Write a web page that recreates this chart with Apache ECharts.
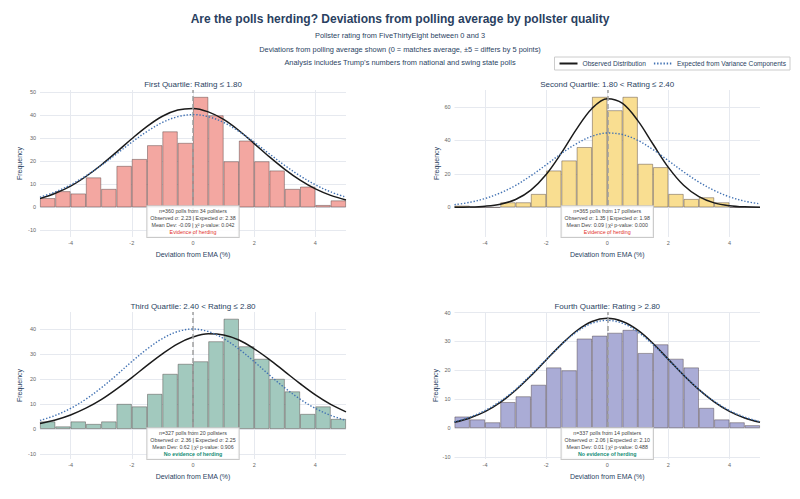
<!DOCTYPE html>
<html><head><meta charset="utf-8">
<script src="https://cdn.jsdelivr.net/npm/echarts/dist/echarts.min.js"></script>
<style>html,body{margin:0;padding:0;background:#fff}#c{width:800px;height:499px}</style>
</head><body><div id="c"></div>
<script>
// ---------- data ----------
const binStarts = [-5,-4.5,-4,-3.5,-3,-2.5,-2,-1.5,-1,-0.5,0,0.5,1,1.5,2,2.5,3,3.5,4,4.5];
const curveX = [-5,-4.5,-4,-3.5,-3,-2.5,-2,-1.5,-1,-0.5,0,0.5,1,1.5,2,2.5,3,3.5,4,4.5,5];
const xTicks = [-4,-2,0,2,4];

const subplotTitles = [
  'First Quartile: Rating \u2264 1.80',
  'Second Quartile: 1.80 < Rating \u2264 2.40',
  'Third Quartile: 2.40 < Rating \u2264 2.80',
  'Fourth Quartile: Rating > 2.80'
];

const q1Counts = [4,7,6,13,8,18,21,27,33,28,48,40,20,29,20,16,8,9,1,3];
const q1Observed = [3.8,6.1,9.2,13.4,18.4,24.0,29.8,35.2,39.6,42.3,43.0,41.5,38.2,33.4,27.7,21.9,16.5,11.8,8.0,5.2,3.2];
const q1Expected = [4.4,6.7,9.8,13.7,18.2,23.2,28.3,33.0,36.9,39.4,40.3,39.4,36.9,33.0,28.3,23.2,18.2,13.7,9.8,6.7,4.4];

const q2Counts = [1,0,0,3,3,8,22,28,36,66,58,66,26,24,8,5,6,3,0,0];
const q2Observed = [0.05,0.2,0.7,1.9,4.7,10.3,19.6,32.5,46.9,59.1,64.9,62.1,51.8,37.7,23.9,13.2,6.4,2.7,1.0,0.3,0.1];
const q2Expected = [1.6,3.0,5.3,8.6,13.1,18.9,25.4,32.2,38.1,42.5,44.4,43.5,40.0,34.5,27.9,21.2,15.1,10.1,6.3,3.7,2.1];

const q3Counts = [3,1,3,2,3,10,9,14,22,26,27,35,44,33,28,20,15,6,9,4];
const q3Observed = [2.2,3.6,5.6,8.3,11.7,15.9,20.5,25.4,30.0,34.0,36.7,38.0,37.5,35.5,32.0,27.7,22.9,18.1,13.6,9.8,6.8];
const q3Expected = [3.4,5.4,8.2,11.9,16.4,21.5,26.9,31.9,36.1,38.9,39.9,38.9,36.1,31.9,26.9,21.5,16.4,11.9,8.2,5.4,3.4];

const q4Counts = [4,3,2,9,11,15,21,20,31,32,33,34,26,29,24,21,7,3,2,1];
const q4Observed = [2.0,3.5,5.7,8.9,13.1,18.1,23.6,29.0,33.7,36.9,38.0,36.9,33.9,29.3,23.8,18.3,13.3,9.1,5.8,3.5,2.0];
const q4Expected = [2.2,3.8,6.1,9.3,13.4,18.4,23.7,28.9,33.3,36.3,37.3,36.3,33.3,28.9,23.7,18.4,13.4,9.3,6.1,3.8,2.2];

const yRanges = [[-12.9, 51], [-17.7, 70.1], [-12, 46.7], [-10.7, 40.2]];
const yTicks = [[-10,0,10,20,30,40,50],[0,20,40,60],[-10,0,10,20,30,40],[-10,0,10,20,30,40]];

const nPolls = [360, 365, 327, 337];
const nPollsters = [34, 17, 20, 14];
const observedSigma = ['2.23','1.35','2.36','2.06'];
const expectedSigma = ['2.38','1.98','2.25','2.10'];
const meanDev = ['-0.09','0.09','0.62','0.01'];
const pValues = ['0.042','0.000','0.906','0.488'];
const verdicts = ['Evidence of herding','Evidence of herding','No evidence of herding','No evidence of herding'];
const herding = [true, true, false, false];

// ---------- style ----------
const FONT = '"Liberation Sans", Arial, Helvetica, sans-serif';
const barColors = ['#F3A7A1','#F9DE91','#A2C9BE','#AAACD6'];
const gridColor = '#E6E9EF';
const grids = [
  {left:40, top:90, width:306, height:147},
  {left:454.5, top:90, width:305.5, height:147},
  {left:40, top:312, width:306, height:147},
  {left:454.5, top:312, width:305.5, height:147}
];
const yNameGaps = [17, 14, 17, 16];

const counts = [q1Counts, q2Counts, q3Counts, q4Counts];
const observed = [q1Observed, q2Observed, q3Observed, q4Observed];
const expected = [q1Expected, q2Expected, q3Expected, q4Expected];

const chart = echarts.init(document.getElementById('c'), null, {renderer:'svg'});

const xAxes = [], yAxes = [], series = [];
grids.forEach((g, i) => {
  xAxes.push({
    type:'value', gridIndex:i, min:-5, max:5,
    axisLabel:{customValues:xTicks, fontSize:5.5, color:'#666', margin:3, fontFamily:FONT},
    axisTick:{show:false, customValues:xTicks},
    splitLine:{show:true, lineStyle:{color:gridColor, width:1}},
    axisLine:{show:false},
    name:'Deviation from EMA (%)', nameLocation:'middle', nameGap:14,
    nameTextStyle:{fontSize:7, color:'#2a3f5f', fontFamily:FONT}
  });
});
grids.forEach((g, i) => {
  xAxes.push({type:'category', gridIndex:i, data:binStarts, show:false, boundaryGap:true});
});
grids.forEach((g, i) => {
  yAxes.push({
    type:'value', gridIndex:i, min:yRanges[i][0], max:yRanges[i][1],
    axisLabel:{customValues:yTicks[i], fontSize:5.5, color:'#666', margin:4, fontFamily:FONT},
    axisTick:{show:false, customValues:yTicks[i]},
    splitLine:{show:true, lineStyle:{color:gridColor, width:1}},
    axisLine:{show:false},
    name:'Frequency', nameLocation:'middle', nameRotate:90, nameGap:yNameGaps[i],
    nameTextStyle:{fontSize:7, color:'#2a3f5f', fontFamily:FONT}
  });
  series.push({
    type:'bar', name:'hist'+i, xAxisIndex:4+i, yAxisIndex:i,
    data:counts[i], barCategoryGap:'0%', silent:true, z:2,
    itemStyle:{color:barColors[i], borderColor:'rgba(60,45,45,0.5)', borderWidth:0.8}
  });
  series.push({
    type:'line', name:'Observed Distribution', xAxisIndex:i, yAxisIndex:i,
    data:curveX.map((x,k)=>[x, observed[i][k]]), smooth:0.35, symbol:'none', showSymbol:false,
    lineStyle:{color:'#1b1b1b', width:1.5}, itemStyle:{color:'#1b1b1b'}, z:4, silent:true,
    markLine:{silent:true, symbol:'none', label:{show:false},
      lineStyle:{color:'#a0a0a0', width:1.5, type:[5,3]},
      data:[{xAxis:0}]}
  });
  series.push({
    type:'line', name:'Expected from Variance Components', xAxisIndex:i, yAxisIndex:i,
    data:curveX.map((x,k)=>[x, expected[i][k]]), smooth:0.35, symbol:'none', showSymbol:false,
    lineStyle:{color:'#4272b3', width:1.4, type:[1.4,1.8]}, itemStyle:{color:'#4272b3'}, z:5, silent:true
  });
});

chart.setOption({
  backgroundColor:'#ffffff',
  animation:false,
  textStyle:{fontFamily:FONT},
  title:{
    text:'Are the polls herding? Deviations from polling average by pollster quality',
    subtext:'Pollster rating from FiveThirtyEight between 0 and 3\nDeviations from polling average shown (0 = matches average, \u00b15 = differs by 5 points)\nAnalysis includes Trump\u2019s numbers from national and swing state polls',
    left:'center', top:12, itemGap:3, padding:0,
    textStyle:{fontSize:12, fontWeight:'bold', color:'#2a3f5f', lineHeight:14, fontFamily:FONT},
    subtextStyle:{fontSize:7.4, color:'#2a3f5f', lineHeight:13.5, fontFamily:FONT, align:'center'}
  },
  legend:{
    data:['Observed Distribution','Expected from Variance Components'],
    right:10, top:57, itemWidth:18, itemHeight:6, itemGap:7,
    padding:[3,4,3,4], borderColor:'#cccccc', borderWidth:1,
    itemStyle:{opacity:0, borderWidth:0},
    textStyle:{fontSize:6.6, color:'#2a3f5f', fontFamily:FONT}
  },
  grid:grids.map(g=>Object.assign({outerBoundsMode:'none', containLabel:false}, g)),
  xAxis:xAxes, yAxis:yAxes, series:series
});

// annotations and subplot titles anchored via the axes
const graphics = [];
grids.forEach((g, i) => {
  const top = chart.convertToPixel({gridIndex:i}, [0, yRanges[i][1]]);
  const bot = chart.convertToPixel({gridIndex:i}, [0, yRanges[i][0]]);
  graphics.push({
    type:'text', x:top[0], y:top[1]-6, z:100, silent:true,
    style:{text:subplotTitles[i], align:'center', verticalAlign:'middle', fontSize:8, fill:'#2a3f5f', fontFamily:FONT}
  });
  const vKey = herding[i] ? 'r' : 'g';
  graphics.push({
    type:'text', x:bot[0], y:bot[1], z:100, silent:true,
    style:{
      text:'{a|n=' + nPolls[i] + ' polls from ' + nPollsters[i] + ' pollsters}\n' +
           '{a|Observed \u03c3: ' + observedSigma[i] + ' | Expected \u03c3: ' + expectedSigma[i] + '}\n' +
           '{a|Mean Dev: ' + meanDev[i] + ' | \u03c7\u00b2 p-value: ' + pValues[i] + '}\n' +
           '{' + vKey + '|' + verdicts[i] + '}',
      align:'center', verticalAlign:'bottom',
      fontFamily:FONT, fontSize:5.3, lineHeight:7.2,
      backgroundColor:'rgba(255,255,255,0.85)', borderColor:'#c9c9c9', borderWidth:1, padding:[1,3,1,3],
      rich:{
        a:{fontSize:5.3, lineHeight:7.2, fill:'#444', fontFamily:FONT, align:'center'},
        r:{fontSize:5.3, lineHeight:7.2, fill:'#e2322b', fontFamily:FONT, align:'center'},
        g:{fontSize:5.3, lineHeight:7.2, fill:'#138d75', fontWeight:'bold', fontFamily:FONT, align:'center'}
      }
    }
  });
});
chart.setOption({graphic:graphics});
</script>
</body></html>
